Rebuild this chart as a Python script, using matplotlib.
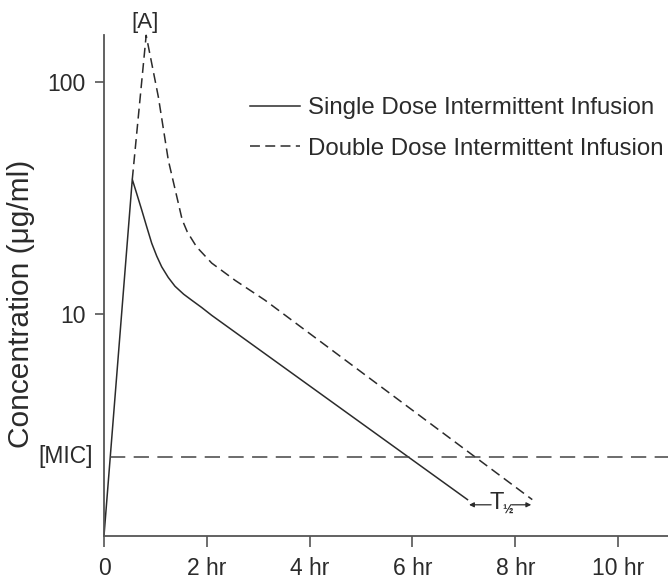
import matplotlib.pyplot as plt

plt.rcParams['font.family'] = ['Liberation Sans', 'DejaVu Sans']

# time (hr) and concentration (ug/ml) for the two dosing schemes
single_t = [0, 0.55, 0.636, 0.733, 0.83, 0.928, 1.025, 1.122, 1.25, 1.381, 1.55, 1.706, 1.9, 2.095, 7.07]
single_c = [1.12, 38, 33.0, 28.1, 23.8, 20.2, 17.8, 16.0, 14.4, 13.2, 12.2, 11.5, 10.7, 9.9, 1.60]

double_t = [0.55, 0.82, 1.057, 1.251, 1.446, 1.52, 1.62, 1.80, 2.095, 2.549, 3.132, 8.33]
double_c = [38, 158, 85.9, 45.9, 30.0, 25.5, 22.6, 19.5, 16.6, 14.0, 11.5, 1.60]

mic = 2.45
half_life_span = [7.10, 8.31]
half_life_y = 1.52

x_ticks = [0, 2, 4, 6, 8, 10]
x_labels = ['0', '2 hr', '4 hr', '6 hr', '8 hr', '10 hr']
y_ticks = [10, 100]
y_labels = ['10', '100']

ink = '#2b2b2b'
fig = plt.figure(figsize=(6.68, 5.82), dpi=100)
ax = fig.add_axes([0.1557, 0.0796, 0.8443, 0.8604])

ax.plot(single_t, single_c, color=ink, lw=1.1, label='Single Dose Intermittent Infusion', clip_on=False)
ax.plot(double_t, double_c, color=ink, lw=1.1, dashes=(6.5, 3.5),
        label='Double Dose Intermittent Infusion', clip_on=False)
ax.plot([0.12, 10.97], [mic, mic], color='#444444', lw=1.1, dashes=(10, 5.5), clip_on=False)

ax.set_yscale('log')
ax.set_xlim(0, 10.97)
ax.set_ylim(1.12, 158.6)

ax.set_xticks(x_ticks)
ax.set_xticklabels(x_labels)
ax.set_yticks(y_ticks)
ax.set_yticklabels(y_labels)
ax.yaxis.set_minor_locator(plt.NullLocator())
ax.tick_params(axis='both', labelsize=16.5, colors='#555555', labelcolor=ink, width=1.2)
ax.tick_params(axis='x', length=8, pad=7)
ax.tick_params(axis='y', length=6.5, pad=7)

for side in ['top', 'right']:
    ax.spines[side].set_visible(False)
for side in ['left', 'bottom']:
    ax.spines[side].set_color('#555555')
    ax.spines[side].set_linewidth(1.3)

fig.text(0.031, 0.478, 'Concentration (μg/ml)', rotation=90, ha='center', va='center',
         fontsize=21.5, color=ink)

# level labels
ax.text(-0.22, mic, '[MIC]', ha='right', va='center', fontsize=16.5, color=ink)
ax.text(0.80, 180, '[A]', ha='center', va='center', fontsize=16, color=ink, clip_on=False)

# half-life marker between the two tails
ax.annotate('', xy=(half_life_span[0], half_life_y), xytext=(7.53, half_life_y),
            arrowprops=dict(arrowstyle='-|>', color=ink, lw=0.9, mutation_scale=7, shrinkA=0, shrinkB=0))
ax.annotate('', xy=(half_life_span[1], half_life_y), xytext=(7.93, half_life_y),
            arrowprops=dict(arrowstyle='-|>', color=ink, lw=0.9, mutation_scale=7, shrinkA=0, shrinkB=0))
ax.text(7.64, half_life_y * 1.015, 'T', ha='center', va='center', fontsize=17, color=ink)
ax.text(7.755, half_life_y * 0.945, '½', ha='left', va='center', fontsize=9,
        color=ink, fontweight='bold')

leg = ax.legend(loc='upper left', bbox_to_anchor=(250 / 668, 1 - 97 / 582),
                bbox_transform=fig.transFigure, frameon=False, fontsize=17.3,
                handlelength=2.08, handletextpad=0.33, labelspacing=0.78, borderpad=0,
                borderaxespad=0)
for t in leg.get_texts():
    t.set_color(ink)

fig.savefig('out.png', dpi=100)
